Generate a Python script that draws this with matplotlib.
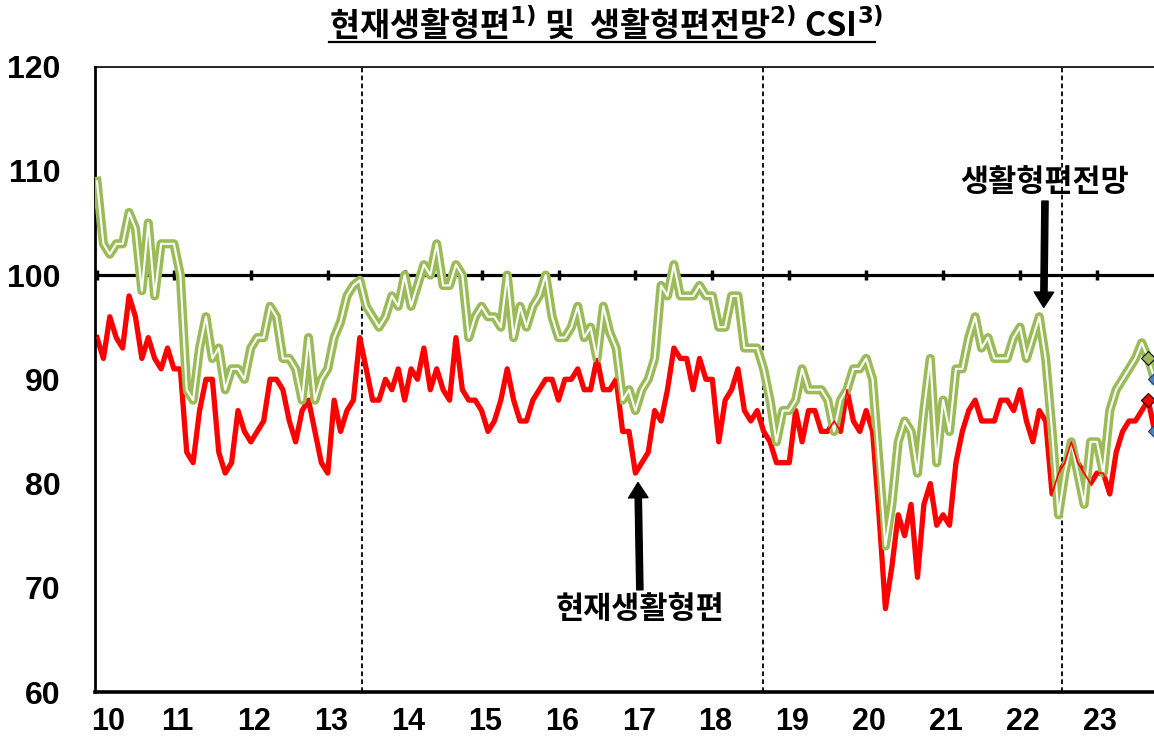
import numpy as np
import matplotlib
matplotlib.use("Agg")
import matplotlib.pyplot as plt
from matplotlib import font_manager
from matplotlib.lines import Line2D

plt.rcParams['font.family'] = ['Noto Sans CJK KR', 'DejaVu Sans']

# monthly series from Jan 2010 (index 0); last point highlighted
year_labels = ['10', '11', '12', '13', '14', '15', '16', '17', '18', '19', '20', '21', '22', '23']

# 현재생활형편 CSI
current = [
    94, 92, 96, 94, 93, 98, 96, 92, 94, 92,
    91, 93, 91, 91, 83, 82, 87, 90, 90, 83,
    81, 82, 87, 85, 84, 85, 86, 90, 90, 89,
    86, 84, 87, 88, 85, 82, 81, 88, 85, 87,
    88, 94, 91, 88, 88, 90, 89, 91, 88, 91,
    90, 93, 89, 91, 89, 88, 94, 89, 88, 88,
    87, 85, 86, 88, 91, 88, 86, 86, 88, 89,
    90, 90, 88, 90, 90, 91, 89, 89, 92, 89,
    89, 90, 85, 85, 81, 82, 83, 87, 86, 89,
    93, 92, 92, 89, 92, 90, 90, 84, 88, 89,
    91, 87, 86, 87, 85, 84, 82, 82, 82, 87,
    84, 87, 87, 85, 85, 86, 85, 89, 86, 85,
    87, 85, 77, 68, 72, 77, 75, 78, 71, 78,
    80, 76, 77, 76, 82, 85, 87, 88, 86, 86,
    86, 88, 88, 87, 89, 86, 84, 87, 86, 79,
    81, 82, 84, 82, 81, 80, 81, 81, 79, 83,
    85, 86, 86, 87, 88, 85,
]

# 생활형편전망 CSI
outlook = [
    109, 103, 102, 103, 103, 106, 104.5, 98.5, 105, 98,
    103, 103, 103, 100, 89, 88, 93, 96, 92, 93,
    89, 91, 91, 90, 93, 94, 94, 97, 96, 92,
    92, 91, 88, 94, 88, 90, 91, 94, 95.5, 98,
    99, 99.5, 97, 96, 95, 96, 98, 97, 100, 97,
    99, 101, 100, 103, 99, 99, 101, 100, 94, 96,
    97, 96, 96, 95, 100, 94, 97, 95, 97, 98,
    100, 96, 94, 94, 95, 97, 94, 95, 92, 97,
    94.5, 93, 88, 89, 87, 89, 90, 92, 99, 98,
    101, 98, 98, 98, 99, 98, 98, 95, 95, 98,
    98, 93, 93, 93, 91, 88, 84, 87, 87, 88,
    91, 89, 89, 89, 88, 85, 88, 89, 91, 91,
    92, 90, 82, 74, 78, 84, 86, 85, 81, 87,
    92, 82, 88, 85, 91, 91, 94, 96, 93, 94,
    92, 92, 92, 94, 95, 92, 94, 96, 92, 85,
    77, 81, 84, 81, 78, 84, 84, 81, 87, 89,
    90, 91, 92, 93.5, 92, 90,
]

# vertical dashed separators (month index)
breaks = [41.3, 103.9, 150.5]

GREEN = '#9BBB59'
RED = '#FF0000'

names = {f.name for f in font_manager.fontManager.ttflist}
num_font = 'Liberation Sans' if 'Liberation Sans' in names else 'DejaVu Sans'
narrow_font = 'Liberation Sans Narrow' if 'Liberation Sans Narrow' in names else num_font

W, H = 1154, 739
fig = plt.figure(figsize=(W / 100, H / 100), dpi=100)
ax = fig.add_axes([95 / W, 1 - 692 / H, (W - 95) / W, (692 - 66.6) / H])

x = np.arange(len(current))
last = len(current) - 1

for b in breaks:
    ax.axvline(b, color='black', lw=1.3, ls=(0, (2.6, 1.8)), zorder=1)
ax.axhline(100, color='black', lw=2.3, zorder=1.5)
year_starts = np.arange(len(year_labels)) * 12
ax.plot(year_starts, np.full(len(year_starts), 100), ls='none', marker='|',
        ms=7, mew=2.5, color='black', zorder=1.6)

ax.plot(x, current, color=RED, lw=3.8, solid_joinstyle='round', zorder=2)
ax.plot(x, outlook, color=GREEN, lw=6.6, solid_joinstyle='round', zorder=3)
ax.plot(x, outlook, color='white', lw=1.5, solid_joinstyle='round', zorder=3.1)
ax.plot(x, current, color=RED, lw=1.2, zorder=3.2)

# highlighted points
ax.plot(x[last - 1], outlook[last - 1], marker='D', ms=7, mfc=GREEN, mec='black', mew=0.8, zorder=5)
ax.plot(x[last - 1], current[last - 1], marker='D', ms=7, mfc=RED, mec='black', mew=0.8, zorder=5)
ax.plot([x[last]] * 2, [outlook[last], current[last]], ls='none', marker='D', ms=7,
        mfc='#4F81BD', mec='#1F3B70', mew=0.8, zorder=5)

ax.set_xlim(-0.31, 164.9)
ax.set_ylim(60, 120)

for side in ['left', 'bottom', 'top']:
    ax.spines[side].set_color('black')
ax.spines['left'].set_linewidth(2.0)
ax.spines['bottom'].set_linewidth(2.6)
ax.spines['top'].set_linewidth(1.2)
ax.spines['right'].set_visible(False)

ax.set_yticks(range(60, 121, 10))
ax.set_yticklabels([str(v) for v in range(60, 121, 10)], fontsize=23,
                   fontweight='bold', family=num_font)
ax.tick_params(axis='y', length=0, pad=25)

label_pos = year_starts + 0.5
label_pos[0] = 1.8
ax.set_xticks(label_pos)
ax.set_xticklabels(year_labels, fontsize=22, fontweight='bold', family=narrow_font)
ax.tick_params(axis='x', length=0, pad=11)

arrow = dict(facecolor='black', edgecolor='black', width=4.5, headwidth=14, headlength=11, shrink=0)
ax.annotate('생활형편전망', xy=(147.7, 96.9), xytext=(147.9, 108.9), ha='center', va='center',
            fontsize=22, fontweight='bold', arrowprops=arrow, zorder=6)
ax.annotate('현재생활형편', xy=(84.4, 80.1), xytext=(84.7, 68.0), ha='center', va='center',
            fontsize=22, fontweight='bold', arrowprops=arrow, zorder=6)

title = fig.text(0.525, 0.968,
                 r'현재생활형편$^{\mathbf{1)}}$ 및  생활형편전망$^{\mathbf{2)}}$ CSI$^{\mathbf{3)}}$',
                 ha='center', va='center', fontsize=23.5, fontweight='bold')
fig.canvas.draw()
bb = title.get_window_extent(fig.canvas.get_renderer())
uy = bb.y0 + 1
fig.add_artist(Line2D([bb.x0 / W, (bb.x1 - 8) / W], [uy / H, uy / H], color='black', lw=1.6))

fig.savefig('out.png', dpi=100)
